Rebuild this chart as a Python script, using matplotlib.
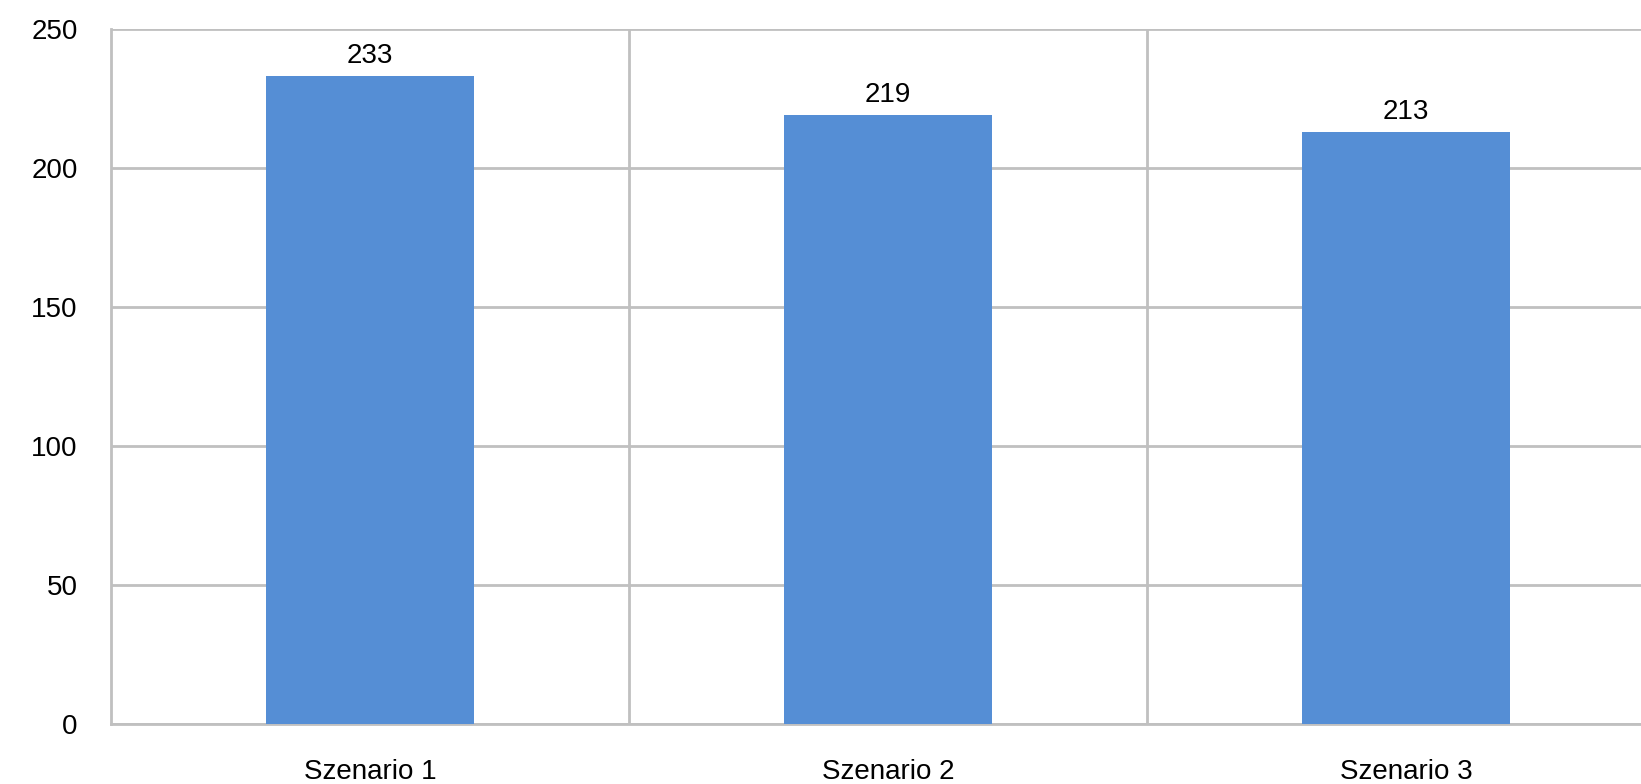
import matplotlib
matplotlib.use("Agg")
import matplotlib.pyplot as plt

# data
szenarien = ["Szenario 1", "Szenario 2", "Szenario 3"]
werte = [233, 219, 213]
y_ticks = [0, 50, 100, 150, 200, 250]

plt.rcParams["font.family"] = ["Liberation Sans", "DejaVu Sans"]

W, H = 1641, 784
fig = plt.figure(figsize=(W / 100, H / 100), dpi=100)
# plot area runs past the right edge, like in the reference
ax = fig.add_axes([111 / W, 60 / H, 1554 / W, 695 / H])

x = list(range(len(szenarien)))
bars = ax.bar(x, werte, width=0.4, color="#558ED5", zorder=3)
ax.bar_label(bars, labels=[str(v) for v in werte], padding=5, fontsize=20, color="#000000")

ax.set_xlim(-0.5, 2.5)
ax.set_ylim(0, 250)
ax.set_yticks(y_ticks)
ax.set_xticks(x)
ax.set_xticklabels(szenarien)
# vertical grid lines between categories
ax.set_xticks([0.5, 1.5], minor=True)

ax.grid(axis="y", which="major", color="#C0C0C0", linewidth=2, zorder=0)
ax.grid(axis="x", which="minor", color="#C0C0C0", linewidth=2, zorder=0)
ax.grid(axis="x", which="major", visible=False)

for s in ["top", "right"]:
    ax.spines[s].set_visible(False)
for s in ["left", "bottom"]:
    ax.spines[s].set_color("#C0C0C0")
    ax.spines[s].set_linewidth(2)

ax.tick_params(axis="both", which="both", length=0, labelsize=20, colors="#000000")
ax.tick_params(axis="y", pad=24)
ax.tick_params(axis="x", pad=25)

fig.savefig("out.png", dpi=100)
